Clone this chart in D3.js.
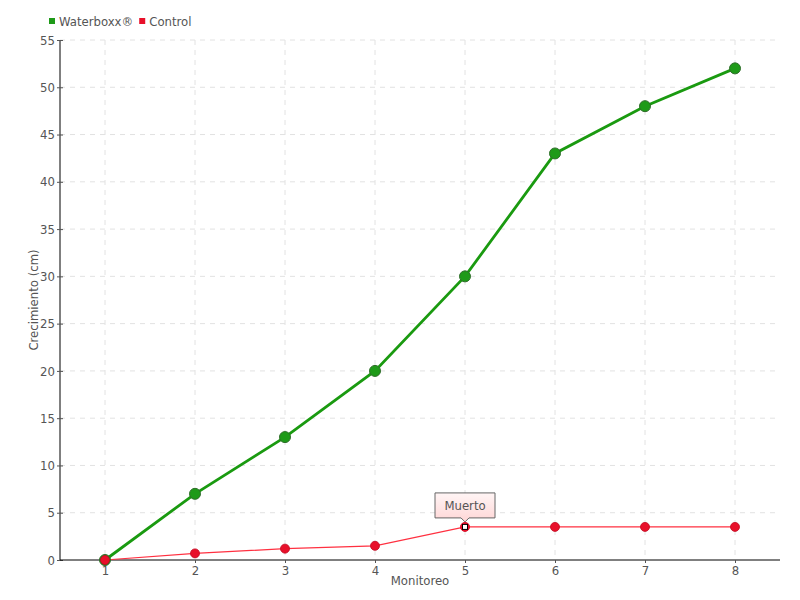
<!DOCTYPE html>
<html><head><meta charset="utf-8">
<script src="https://cdn.jsdelivr.net/npm/d3@7"></script>
<style>body{margin:0;background:#fff}svg{display:block}text{font-family:"DejaVu Sans Condensed","DejaVu Sans",sans-serif;fill:#555}</style>
</head><body><svg id="c" width="800" height="600"></svg>
<script>
const categories = [1,2,3,4,5,6,7,8];
const waterboxx = [0,7,13,20,30,43,48,52];
const control = [0,0.7,1.2,1.5,3.5,3.5,3.5,3.5];
const yTicks = [0,5,10,15,20,25,30,35,40,45,50,55];
const seriesNames = ["Waterboxx®","Control"];
const annotationText = "Muerto";
const annotationIndex = 4;

const FS = 13;
const svg = d3.select("#c");
const m = {l:60, r:20, t:40, b:40};
const W = 800, H = 600;
const x = d3.scaleLinear().domain([0.5,8.5]).range([m.l, W-m.r]);
const y = d3.scaleLinear().domain([0,55]).range([H-m.b, m.t]);

const defs = svg.append("defs");
const gr = defs.append("linearGradient").attr("id","pk").attr("x1",0).attr("y1",0).attr("x2",0).attr("y2",1);
gr.append("stop").attr("offset","0%").attr("stop-color","#fff5f5");
gr.append("stop").attr("offset","100%").attr("stop-color","#ffd6d6");

// grid
const g = svg.append("g");
g.selectAll(".hg").data(yTicks.filter(d=>d>0)).join("line")
  .attr("x1",m.l).attr("x2",W-m.r).attr("y1",d=>y(d)).attr("y2",d=>y(d))
  .attr("stroke","#e2e2e2").attr("stroke-dasharray","5,5");
g.selectAll(".vg").data(categories).join("line")
  .attr("x1",d=>x(d)).attr("x2",d=>x(d)).attr("y1",m.t).attr("y2",H-m.b)
  .attr("stroke","#e2e2e2").attr("stroke-dasharray","5,5");

// axes
const yAxis = svg.append("g").attr("transform",`translate(${m.l},0)`)
  .call(d3.axisLeft(y).tickValues(yTicks).tickSize(3).tickPadding(2));
yAxis.select(".domain").attr("stroke","#000").attr("d",`M0,${y(55)}V${y(0)}`);
yAxis.selectAll(".tick line").attr("x1",-3).attr("x2",3).attr("stroke","#555");
yAxis.selectAll("text").attr("font-size",FS).attr("fill","#555").style("font-family","DejaVu Sans Condensed");

const xAxis = svg.append("g").attr("transform",`translate(0,${H-m.b})`)
  .call(d3.axisBottom(x).tickValues(categories).tickSize(3).tickPadding(3).tickFormat(d3.format("d")));
xAxis.select(".domain").attr("stroke","#000").attr("d",`M${m.l},0H${W-m.r}`);
xAxis.selectAll(".tick line").attr("stroke","#555");
xAxis.selectAll("text").attr("font-size",FS).attr("fill","#555").style("font-family","DejaVu Sans Condensed");

// titles
svg.append("text").attr("x",420).attr("y",585).attr("text-anchor","middle").attr("font-size",FS).text("Monitoreo");
svg.append("text").attr("transform","translate(38,300) rotate(-90)").attr("text-anchor","middle").attr("font-size",FS).text("Crecimiento (cm)");

// lines
const line = d3.line().x((d,i)=>x(categories[i])).y(d=>y(d));
svg.append("path").datum(control).attr("d",line).attr("fill","none").attr("stroke","#ff3040").attr("stroke-width",1.2);
svg.append("path").datum(waterboxx).attr("d",line).attr("fill","none").attr("stroke","#1a9a10").attr("stroke-width",2.8);

svg.selectAll(".wp").data(waterboxx).join("circle")
  .attr("cx",(d,i)=>x(categories[i])).attr("cy",d=>y(d)).attr("r",5.5)
  .attr("fill","#1e9a18").attr("stroke","#2f6e2a").attr("stroke-width",1);
svg.selectAll(".cp").data(control).join("circle")
  .attr("cx",(d,i)=>x(categories[i])).attr("cy",d=>y(d)).attr("r",4.5)
  .attr("fill","#e8102a").attr("stroke","#c00820").attr("stroke-width",0.8);

// annotation marker
const ax = x(categories[annotationIndex]), ay = y(control[annotationIndex]);
svg.append("circle").attr("cx",ax).attr("cy",ay).attr("r",4.5).attr("fill","#e8102a");
svg.append("rect").attr("x",ax-2.5).attr("y",ay-2.5).attr("width",5).attr("height",5).attr("fill","#fff").attr("stroke","#000").attr("stroke-width",1);
// callout
const bx = ax-30, bw = 60, by = ay-34, bh = 25;
svg.append("path").attr("d",`M${bx},${by}H${bx+bw}V${by+bh}H${ax+4}L${ax},${by+bh+4}L${ax-4},${by+bh}H${bx}Z`)
  .attr("fill","url(#pk)").attr("stroke","#666").attr("stroke-width",1);
svg.append("text").attr("x",ax).attr("y",by+17).attr("text-anchor","middle").attr("font-size",FS).text(annotationText);

// legend
const legColors = ["#1e9a18","#e8102a"];
const lg = svg.append("g");
let lx = 49;
seriesNames.forEach((n,i)=>{
  lg.append("rect").attr("x",lx).attr("y",18).attr("width",6).attr("height",6).attr("fill",legColors[i]);
  const t = lg.append("text").attr("x",lx+10).attr("y",26).attr("font-size",FS).text(n);
  lx += 10 + t.node().getComputedTextLength() + 6;
});
</script></body></html>
